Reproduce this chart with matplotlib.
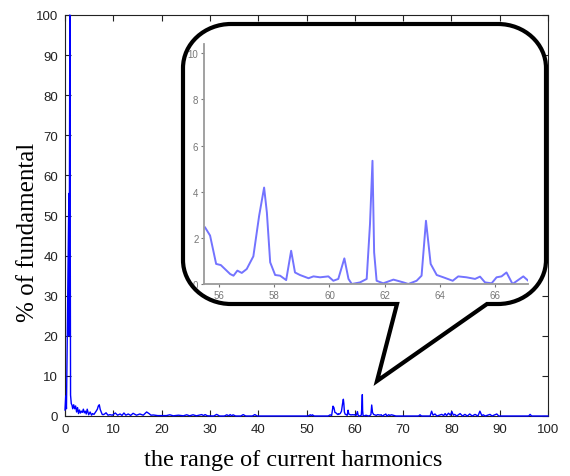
import matplotlib
matplotlib.use("Agg")
import matplotlib.pyplot as plt
from matplotlib.path import Path
from matplotlib.patches import PathPatch
from matplotlib.transforms import Affine2D

# spectrum below the zoomed window (harmonic order, % of fundamental)
LOW_X = [0.0, 0.15, 0.3, 0.8, 0.85, 1.0, 1.15, 1.3, 1.45, 1.6, 1.8, 2.0,
         2.2, 2.4, 2.6, 2.8, 3.0, 3.2, 3.4, 3.6, 3.8, 4.0, 4.2, 4.4, 4.6,
         4.9, 5.2, 5.5, 5.7, 6.0, 6.2, 6.5, 6.7, 6.9, 7.1, 7.3, 7.5, 7.7,
         7.9, 8.2, 8.5, 8.9, 9.3, 9.8, 10.4, 10.9, 11.4, 11.8, 12.2, 12.6,
         13.1, 13.6, 14.1, 14.8, 15.5, 16.2, 16.9, 17.4, 17.8, 18.3, 19.2,
         20.3, 21.0, 21.7, 22.4, 23.5, 24.5, 25.2, 25.8, 26.5, 27.2, 28.3,
         28.7, 29.0, 29.5, 30.8, 31.4, 32.0, 33.0, 33.5, 33.9, 34.2, 34.5,
         34.8, 35.3, 36.4, 36.9, 37.4, 38.8, 39.3, 39.8, 50.3, 50.8, 51.0,
         51.2, 51.6, 54.5, 54.9, 55.2]
LOW_Y = [1.5, 5.0, 1.8, 55.5, 20.0, 100.0, 5.2, 3.1, 2.7, 1.8, 2.8, 1.8,
         2.5, 1.0, 2.1, 0.6, 1.5, 0.75, 1.2, 0.9, 1.7, 0.8, 1.2, 0.5, 1.7,
         0.3, 1.0, 0.2, 0.6, 0.4, 0.75, 1.3, 1.7, 2.5, 2.8, 1.6, 1.0, 0.4,
         0.33, 0.5, 0.8, 0.2, 0.33, 0.2, 0.75, 0.2, 0.5, 0.15, 0.75, 0.2,
         0.5, 0.15, 0.67, 0.2, 0.5, 0.2, 1.0, 0.6, 0.2, 0.25, 0.1, 0.1,
         0.1, 0.3, 0.05, 0.2, 0.05, 0.3, 0.05, 0.3, 0.05, 0.35, 0.1, 0.35,
         0.05, 0.0, 0.4, 0.0, 0.0, 0.3, 0.05, 0.35, 0.05, 0.3, 0.0, 0.0,
         0.35, 0.0, 0.0, 0.35, 0.0, 0.0, 0.3, 0.05, 0.3, 0.0, 0.0, 0.3, 0.1]

# zoomed window 55.5 .. 67.2
ZOOM_X = [55.49, 55.67, 55.89, 56.06, 56.4, 56.52, 56.66, 56.82, 57.0,
          57.24, 57.45, 57.63, 57.73, 57.85, 58.03, 58.21, 58.43, 58.61,
          58.75, 58.93, 59.24, 59.42, 59.66, 59.96, 60.14, 60.32, 60.54,
          60.69, 60.81, 61.11, 61.35, 61.47, 61.56, 61.62, 61.71, 61.95,
          62.32, 62.68, 62.86, 63.16, 63.34, 63.5, 63.67, 63.89, 64.13,
          64.47, 64.67, 64.97, 65.28, 65.46, 65.64, 65.88, 66.06, 66.24,
          66.42, 66.64, 67.03, 67.21]
ZOOM_Y = [2.45, 2.1, 0.87, 0.82, 0.43, 0.36, 0.58, 0.48, 0.65,
          1.2, 2.96, 4.18, 3.1, 0.94, 0.39, 0.36, 0.17, 1.44,
          0.5, 0.39, 0.25, 0.33, 0.29, 0.33, 0.14, 0.22, 1.11,
          0.22, 0.0, 0.07, 0.22, 2.6, 5.34, 1.37, 0.14, 0.03,
          0.19, 0.07, 0.0, 0.14, 0.36, 2.74, 0.87, 0.39, 0.29,
          0.14, 0.33, 0.29, 0.22, 0.32, 0.07, 0.03, 0.29, 0.33,
          0.5, 0.0, 0.33, 0.14]

# spectrum above the zoomed window
HIGH_X = [67.6, 68.5, 73.2, 73.5, 73.8, 75.6, 75.9, 76.2, 76.6, 77.0, 78.0,
          78.4, 78.7, 79.0, 79.4, 79.8, 80.1, 80.4, 80.7, 81.1, 81.8, 82.3,
          82.8, 83.3, 83.8, 84.3, 84.9, 85.5, 85.9, 86.3, 86.6, 87.0, 88.0,
          88.4, 89.4, 89.8, 96.0, 96.3, 96.6, 100.0]
HIGH_Y = [0.3, 0.0, 0.0, 0.3, 0.0, 0.0, 1.2, 0.2, 0.5, 0.0, 0.4,
          0.1, 0.6, 0.1, 0.7, 0.2, 1.1, 0.2, 0.4, 0.0, 0.6, 0.0,
          0.4, 0.0, 0.5, 0.0, 0.4, 0.0, 1.2, 0.1, 0.3, 0.0, 0.4,
          0.0, 0.5, 0.0, 0.0, 0.4, 0.0, 0.0]

MAIN_TICKS = list(range(0, 101, 10))
ZOOM_XTICKS = [56, 58, 60, 62, 64, 66]
ZOOM_YTICKS = [0, 2, 4, 6, 8, 10]

W, H = 570, 477
SANS = ["Liberation Sans", "DejaVu Sans"]
SERIF = ["Liberation Serif", "DejaVu Serif"]


def px_rect(l, t, r, b):
    return [l / W, 1 - b / H, (r - l) / W, (b - t) / H]


def bubble_path(L, T, R, B, rx, ry, tail_l, tail_r, tip):
    k = 0.5523
    v = [(tail_r, B), (R - rx, B),
         (R - rx + k * rx, B), (R, B - ry + k * ry), (R, B - ry),
         (R, T + ry),
         (R, T + ry - k * ry), (R - rx + k * rx, T), (R - rx, T),
         (L + rx, T),
         (L + rx - k * rx, T), (L, T + ry - k * ry), (L, T + ry),
         (L, B - ry),
         (L, B - ry + k * ry), (L + rx - k * rx, B), (L + rx, B),
         (tail_l, B), tip, (tail_r, B)]
    c = [Path.MOVETO, Path.LINETO,
         Path.CURVE4, Path.CURVE4, Path.CURVE4,
         Path.LINETO,
         Path.CURVE4, Path.CURVE4, Path.CURVE4,
         Path.LINETO,
         Path.CURVE4, Path.CURVE4, Path.CURVE4,
         Path.LINETO,
         Path.CURVE4, Path.CURVE4, Path.CURVE4,
         Path.LINETO, Path.LINETO, Path.CLOSEPOLY]
    return Path(v, c)


def main():
    fig = plt.figure(figsize=(W / 100, H / 100), dpi=100)
    fig.patch.set_facecolor("white")

    ax = fig.add_axes(px_rect(65, 16, 548, 417), zorder=0)
    ax.plot(LOW_X + ZOOM_X + HIGH_X, LOW_Y + ZOOM_Y + HIGH_Y,
            color="#0000FF", lw=1.0, zorder=3, clip_on=False)
    ax.set_xlim(0, 100)
    ax.set_ylim(0, 100)
    ax.set_xticks(MAIN_TICKS)
    ax.set_yticks(MAIN_TICKS)
    ax.tick_params(direction="in", top=True, right=True, length=4,
                   width=0.8, color="#222222", labelcolor="#222222", pad=5)
    for lab in ax.get_xticklabels() + ax.get_yticklabels():
        lab.set_family(SANS)
        lab.set_fontsize(9.5)
    for sp in ax.spines.values():
        sp.set_color("#222222")
        sp.set_linewidth(0.8)

    fig.text(293 / W, 1 - 461 / H, "the range of current harmonics",
             family=SERIF, fontsize=17.5, ha="center", va="center")
    fig.text(28 / W, 1 - 232 / H, "% of fundamental", family=SERIF,
             fontsize=18, ha="center", va="center", rotation=90)

    # speech bubble holding the zoomed view
    to_fig = Affine2D().scale(1 / W, -1 / H).translate(0, 1) + fig.transFigure
    path = bubble_path(183, 25, 546, 305, 48, 44, 397, 487, (377, 382))
    fig.add_artist(PathPatch(path, transform=to_fig, facecolor="white",
                             edgecolor="none", zorder=1))
    fig.add_artist(PathPatch(path, transform=to_fig, facecolor="none",
                             edgecolor="black", lw=3.0, joinstyle="miter",
                             zorder=3))

    ins = fig.add_axes(px_rect(204, 45, 528, 285), zorder=2)
    ins.patch.set_alpha(0)
    ins.plot(ZOOM_X, ZOOM_Y, color="#5a5aff", lw=1.4, alpha=0.85)
    ins.set_xlim(55.45, 67.2)
    ins.set_ylim(0, 10.4)
    ins.set_xticks(ZOOM_XTICKS)
    ins.set_yticks(ZOOM_YTICKS)
    ins.spines["top"].set_visible(False)
    ins.spines["right"].set_visible(False)
    for s in ("left", "bottom"):
        ins.spines[s].set_color("#9a9a9a")
        ins.spines[s].set_linewidth(1.3)
    ins.tick_params(direction="out", length=2.5, width=0.8, color="#777777",
                    labelcolor="#777777", pad=1.5)
    for lab in ins.get_xticklabels() + ins.get_yticklabels():
        lab.set_family(SANS)
        lab.set_fontsize(7)

    fig.savefig("out.png", dpi=100)
    plt.close(fig)


if __name__ == "__main__":
    main()
